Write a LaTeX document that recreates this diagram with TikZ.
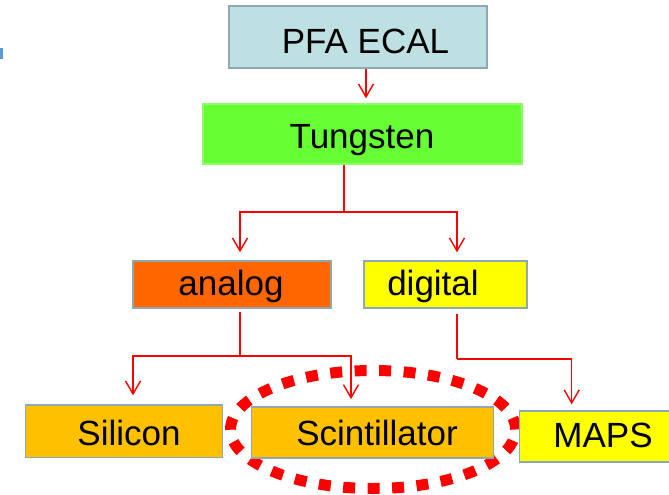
\documentclass[tikz,border=0pt]{standalone}
\usepackage{fontspec}
\setmainfont{Liberation Sans}
\usetikzlibrary{arrows.meta}

\definecolor{ecalblue}{HTML}{BDE0E3}
\definecolor{tunggreen}{HTML}{66FF33}
\definecolor{tungedge}{HTML}{8CFF66}
\definecolor{analogorange}{HTML}{FF6600}
\definecolor{digiyellow}{HTML}{FFFF00}
\definecolor{sensamber}{HTML}{FFC000}
\definecolor{boxedge}{HTML}{8FA8B2}
\definecolor{linkred}{HTML}{FF0000}
\definecolor{markblue}{HTML}{5B9BD5}

\begin{document}
\begin{tikzpicture}[x=1pt, y=-1pt,
  box/.style={draw=boxedge, line width=1.4pt, inner sep=0pt},
  lbl/.style={anchor=base, inner sep=0pt, font=\fontsize{35}{42}\selectfont},
  link/.style={draw=linkred, line width=1.4pt},
  arr/.style={link, -{Straight Barb[length=13pt, width=15pt, line width=1.4pt]}},
  ring/.style={draw=linkred, line width=11pt, dash pattern=on 12pt off 12.5pt}]
\useasboundingbox (0,0) rectangle (669,495);

% small bullet mark at the left edge
\fill[markblue] (0,48) rectangle (2.7,59);

% dotted highlight around the scintillator option
\draw[ring] (373,429.5) ellipse [x radius=142.5pt, y radius=59pt];

% boxes of the tree
\node[box, fill=ecalblue, minimum width=258pt, minimum height=62pt] (pfa) at (358,37) {};
\node[box, draw=tungedge, fill=tunggreen, minimum width=319pt, minimum height=60pt] (tung) at (362.5,134) {};
\node[box, fill=analogorange, minimum width=198pt, minimum height=47pt] (analog) at (232,284.5) {};
\node[box, fill=digiyellow, minimum width=163pt, minimum height=47pt] (digital) at (445.5,284.5) {};
\node[box, fill=sensamber, minimum width=197pt, minimum height=52.5pt] (silicon) at (124,431.3) {};
\node[box, fill=sensamber, minimum width=242pt, minimum height=51pt] (scint) at (372.7,432.3) {};
\node[box, fill=digiyellow, minimum width=154pt, minimum height=51pt] (maps) at (596.6,436.5) {};

% box texts
\node[lbl] (pfaT) at (365.5,54) {PFA ECAL};
\node[lbl] (tungT) at (362,148) {Tungsten};
\node[lbl] (analogT) at (231,295) {analog};
\node[lbl] (digitalT) at (433,295) {digital};
\node[lbl] (siliconT) at (129,445) {Silicon};
\node[lbl] (scintT) at (377,445) {Scintillator};
\node[lbl] (mapsT) at (603,447.5) {MAPS};

% branch points
\coordinate (tj) at (344,212);
\coordinate (aj) at (240,356);
\coordinate (dj) at (457,359);

% connectors
\draw[arr, shorten >=5pt] ([xshift=8pt]pfa.south) -- ([xshift=8pt]pfa.south |- tung.north);
\draw[link] ([xshift=-18.5pt]tung.south) -- (tj);
\draw[arr, shorten >=8pt] (tj) -| ([xshift=8pt]analog.north);
\draw[arr, shorten >=8pt] (tj) -| ([xshift=11.5pt]digital.north);
\draw[link, shorten <=3pt] ([xshift=8pt]analog.south) -- (aj);
\draw[arr, shorten >=9pt] (aj) -| ([xshift=9pt]silicon.north);
\draw[arr, shorten >=7pt] (aj) -| ([xshift=-21.7pt]scint.north);
\draw[link, shorten <=5pt] ([xshift=11.5pt]digital.south) -- (dj);
\draw[arr, shorten >=6pt] (dj) -| ([xshift=-24.9pt]maps.north);
\end{tikzpicture}
\end{document}
